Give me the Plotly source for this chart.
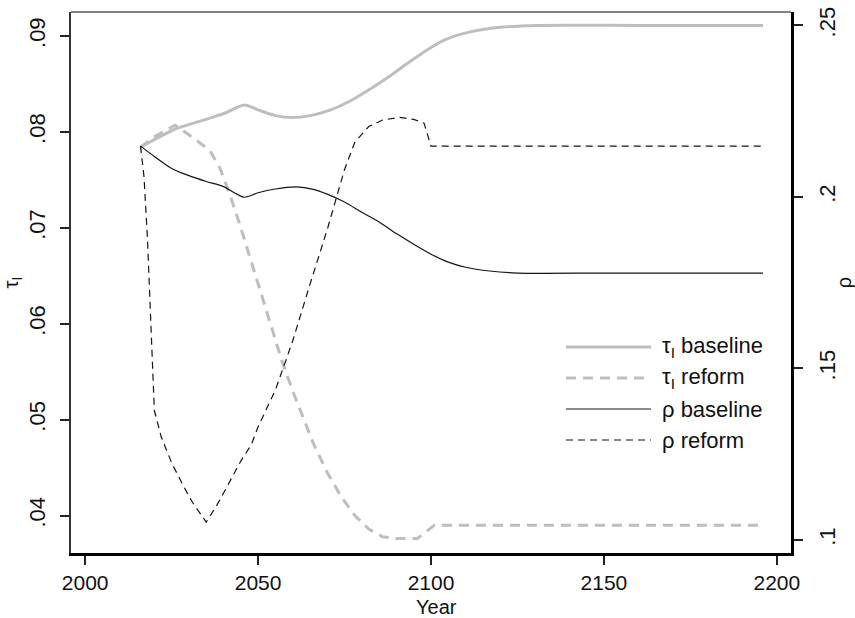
import plotly.graph_objects as go

# ---- data ----
years_tau_base = [2016, 2020, 2026, 2033, 2040, 2046, 2050, 2055, 2060, 2065, 2071, 2077, 2083, 2088, 2093, 2097, 2100, 2104, 2111, 2120, 2131, 2160, 2196]
tau_base = [.0784, .0792, .0803, .0811, .0819, .0828, .0823, .0817, .0815, .0817, .0823, .0833, .0846, .0858, .0871, .0881, .0888, .0896, .0904, .0909, .0911, .0911, .0911]

years_tau_ref = [2016, 2020, 2023, 2026, 2030, 2033, 2036, 2039, 2042, 2045, 2048, 2051, 2054, 2057, 2060, 2063, 2066, 2070, 2074, 2078, 2082, 2086, 2090, 2096, 2098, 2101, 2130, 2196]
tau_ref = [.0784, .0795, .0801, .0807, .0797, .0789, .0781, .0762, .0733, .0700, .0666, .0630, .0595, .0560, .0530, .0502, .0475, .0445, .0420, .0400, .0386, .0378, .0376, .0376, .0382, .0390, .0390, .0390]

years_rho_base = [2016, 2020, 2025, 2030, 2035, 2040, 2046, 2050, 2055, 2061, 2066, 2070, 2075, 2080, 2085, 2090, 2095, 2100, 2105, 2110, 2117, 2125, 2150, 2196]
rho_base = [.2148, .2118, .2083, .2062, .2045, .2030, .1999, .2012, .2023, .2029, .2022, .2008, .1985, .1955, .1927, .1893, .1862, .1833, .1810, .1795, .1784, .1778, .1778, .1778]

years_rho_ref = [2016, 2017, 2018, 2019, 2020, 2022, 2025, 2028, 2031, 2035, 2038, 2041, 2045, 2048, 2050, 2055, 2060, 2065, 2070, 2075, 2078, 2082, 2086, 2091, 2095, 2098, 2100, 2130, 2196]
rho_ref = [.2148, .2060, .1880, .1640, .1378, .1300, .1225, .1165, .1110, .1052, .1100, .1155, .1230, .1277, .1330, .1437, .1580, .1745, .1905, .2080, .2160, .2205, .2224, .2232, .2226, .2215, .2148, .2148, .2148]

legend_labels = ["τ<sub>I</sub> baseline", "τ<sub>I</sub> reform", "ρ baseline", "ρ reform"]
x_title = "Year"
x_ticks = [2000, 2050, 2100, 2150, 2200]
y_ticks = [.04, .05, .06, .07, .08, .09]
y_ticktext = [".04", ".05", ".06", ".07", ".08", ".09"]
y2_ticks = [.10, .15, .20, .25]
y2_ticktext = [".1", ".15", ".2", ".25"]

GRAY = "rgb(190,190,190)"
BLACK = "rgb(20,20,20)"
styles = [
    dict(color=GRAY, width=3, dash="solid"),
    dict(color=GRAY, width=3, dash="10px,7px"),
    dict(color=BLACK, width=1.2, dash="solid"),
    dict(color=BLACK, width=1.2, dash="7px,5px"),
]

fig = go.Figure()
fig.add_trace(go.Scatter(x=years_tau_base, y=tau_base, mode="lines", line=dict(**styles[0], shape="spline", smoothing=0.7),
                         name=legend_labels[0], yaxis="y"))
fig.add_trace(go.Scatter(x=years_tau_ref, y=tau_ref, mode="lines", line=styles[1],
                         name=legend_labels[1], yaxis="y"))
fig.add_trace(go.Scatter(x=years_rho_base, y=rho_base, mode="lines", line=dict(**styles[2], shape="spline", smoothing=0.7),
                         name=legend_labels[2], yaxis="y2"))
fig.add_trace(go.Scatter(x=years_rho_ref, y=rho_ref, mode="lines", line=styles[3],
                         name=legend_labels[3], yaxis="y2"))

FAM = "Liberation Sans, Arial"
TICKFONT = dict(family=FAM, size=22, color="#111")
XTICKFONT = dict(family=FAM, size=21, color="#111")
TITLEFONT = dict(family=FAM, size=20, color="#111")

fig.update_layout(
    width=855, height=618,
    margin=dict(l=71, r=64, t=12, b=65, autoexpand=False),
    paper_bgcolor="white", plot_bgcolor="white",
    showlegend=False,
    xaxis=dict(range=[1995.9, 2204.1], tickvals=x_ticks, ticks="outside", ticklen=9,
               tickwidth=1.5, tickcolor="#222", showline=True, linewidth=2.5, linecolor="black",
               showgrid=False, zeroline=False, tickfont=XTICKFONT, automargin=False),
    yaxis=dict(range=[0.0361, 0.0925], tickvals=y_ticks, ticktext=y_ticktext, tickangle=-90,
               ticks="outside", ticklen=9, tickwidth=1.5, tickcolor="#222",
               showline=True, linewidth=1.6, linecolor="#333", showgrid=False, zeroline=False,
               tickfont=TICKFONT, ticklabelstandoff=6, automargin=False,
               title=dict(text="τ<sub>I</sub>", font=dict(family=FAM, size=20, color="#111"), standoff=4)),
    yaxis2=dict(range=[0.0962, 0.2539], tickvals=y2_ticks, ticktext=y2_ticktext, tickangle=-90,
                overlaying="y", side="right", anchor="x",
                ticks="outside", ticklen=9, tickwidth=1.5, tickcolor="#222",
                showline=True, linewidth=2.5, linecolor="black", showgrid=False, zeroline=False,
                tickfont=TICKFONT, ticklabelstandoff=6, automargin=False,
                title=dict(text="ρ", font=dict(family=FAM, size=20, color="#111"), standoff=10)),
)

# top border of the plot box
fig.add_shape(type="line", xref="paper", yref="paper", x0=0, x1=1, y0=1, y1=1,
              line=dict(color="black", width=1))

PLOT_L, PLOT_W, PLOT_B, PLOT_H = 71.0, 720.0, 553.0, 541.0
def px_to_paper(px, py):
    return (px - PLOT_L) / PLOT_W, (PLOT_B - py) / PLOT_H

# x-axis title placed just below the tick labels
xa, ya = px_to_paper(436, 607)
fig.add_annotation(xref="paper", yref="paper", x=xa, y=ya, text=x_title, showarrow=False,
                   xanchor="center", yanchor="middle", font=TITLEFONT)

# manual legend (Stata-style long samples)
rows_py = [347, 378, 409, 440]
for lab, st, py in zip(legend_labels, styles, rows_py):
    x0, y0 = px_to_paper(566, py)
    x1, _ = px_to_paper(651, py)
    fig.add_shape(type="line", xref="paper", yref="paper", x0=x0, x1=x1, y0=y0, y1=y0,
                  line=st)
    xt, _ = px_to_paper(660, py)
    fig.add_annotation(xref="paper", yref="paper", x=xt, y=y0, text=lab, showarrow=False,
                       xanchor="left", yanchor="middle",
                       font=dict(family=FAM, size=22, color="#111"))

fig.write_html("out.html")
